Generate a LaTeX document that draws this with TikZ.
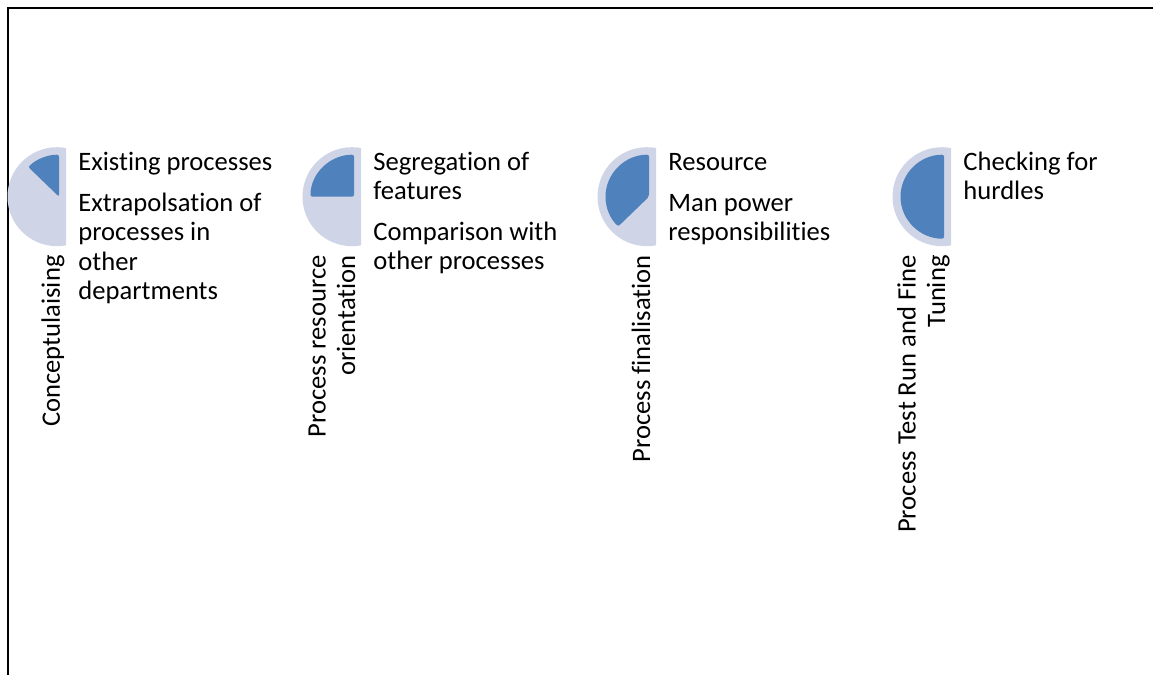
\documentclass[tikz,border=0pt]{standalone}
\usepackage{fontspec}
\setmainfont[Ligatures=NoCommon]{Carlito}
\definecolor{pielight}{HTML}{CFD5E6}
\definecolor{piedark}{HTML}{4F81BD}
\begin{document}
\begin{tikzpicture}[x=0.5pt,y=0.5pt,
  itemtext/.style={anchor=base west,inner sep=0,align=left,font=\fontsize{13.3}{14.65}\selectfont},
  steplabel/.style={anchor=base east,inner sep=0,align=right,rotate=90,font=\fontsize{13.3}{14.65}\selectfont},
  frameline/.style={line width=1pt,black}]
\useasboundingbox (0,0) rectangle (1153,675);
\draw[frameline] (7.5,0) -- (7.5,667) -- (1153,667);
% pies
\foreach \R/\ang [count=\i] in {66/135,361/180,656/225,951/270}{
  \begin{scope}
    \clip (\R-100,400) rectangle (\R,560);
    \fill[pielight] (\R-9,478.3) circle (49.5);
  \end{scope}
  \fill[piedark,rounded corners=1pt] (\R-7,478.3) -- (\R-7,520.3)
     arc[start angle=90,end angle=\ang,x radius=43.5,y radius=42] -- cycle;
}
% column 1 (base = baseline of last line)
\node[itemtext] (c1a) at (78,504.5) {Existing processes};
\node[itemtext] (c1b) at (78,375.6) {Extrapolsation of\\processes in\\other\\departments};
\node[steplabel] (l1) at (60,420) {Conceptulaising};
% column 2
\node[itemtext] (c2a) at (373,475.2) {Segregation of\\features};
\node[itemtext] (c2b) at (373,405) {Comparison with\\other processes};
\node[steplabel] (l2) at (355,420) {Process resource\\orientation};
% column 3
\node[itemtext] (c3a) at (668,504.5) {Resource};
\node[itemtext] (c3b) at (668,434.2) {Man power\\responsibilities};
\node[steplabel] (l3) at (650,420) {Process finalisation};
% column 4
\node[itemtext] (c4a) at (963,475.2) {Checking for\\hurdles};
\node[steplabel] (l4) at (945,420) {Process Test Run and Fine\\Tuning};
\end{tikzpicture}
\end{document}
